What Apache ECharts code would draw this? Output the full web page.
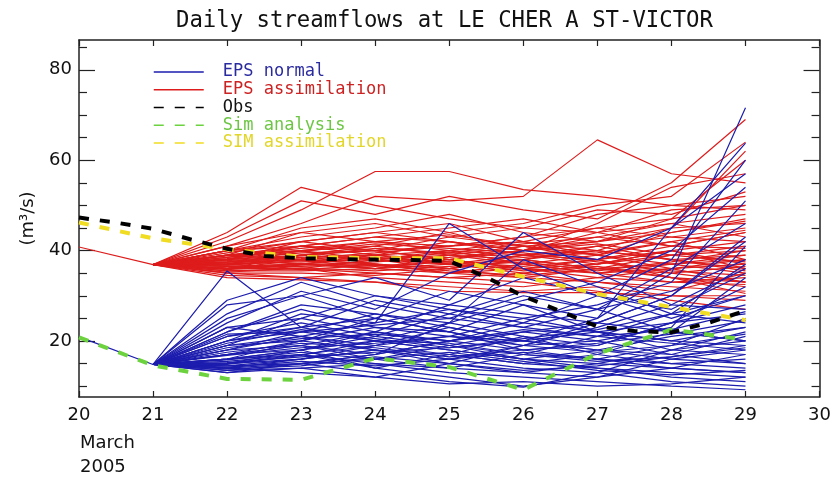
<!DOCTYPE html>
<html><head><meta charset="utf-8">
<script src="https://cdn.jsdelivr.net/npm/echarts@6/dist/echarts.min.js"></script>
<style>html,body{margin:0;padding:0;background:#fff}#c{width:834px;height:483px}</style>
</head><body><div id="c"></div>
<script>
// ---------- data ----------
const titleText = 'Daily streamflows at LE CHER A ST-VICTOR';
const yAxisName = '(m\u00b3/s)';
const monthLabel = 'March';
const yearLabel = '2005';
const yMajorTicks = [20, 40, 60, 80];
const yMinorTicks = [10, 15, 25, 30, 35, 45, 50, 55, 65, 70, 75, 85];

const histDays = [20, 21];
const blueHist = [20.9, 14.8];
const redHist = [40.8, 36.9];

const memberDays = [21, 22, 23, 24, 25, 26, 27, 28, 29];
const blueStart = 14.8;
const redStart = 36.9;

// EPS normal members, values for days 22..29
const blueMembers = [
  [35.5, 23, 20, 18, 16, 15, 14, 13],
  [29, 34, 30, 27, 24, 22, 20, 19],
  [26, 33, 28, 25, 30, 27, 36, 46],
  [24, 31, 27, 35, 40, 38, 45, 63.8],
  [23, 25, 30, 28, 26, 24, 30, 42],
  [22, 27, 23, 21, 20, 25, 35, 71.6],
  [21, 24, 21, 19, 17, 16, 15, 16],
  [20, 23, 25, 31, 28, 22, 18, 17],
  [20, 22, 20, 24, 29, 33, 40, 54],
  [19, 21, 19, 17, 15, 14, 12, 11],
  [19, 20, 23, 22, 18, 19, 24, 28],
  [18, 22, 26, 24, 21, 17, 15, 14],
  [18, 19, 17, 20, 24, 30, 38, 60],
  [17, 20, 18, 16, 14, 13, 11, 10],
  [17, 18, 21, 26, 31, 27, 22, 20],
  [17, 19, 16, 14, 17, 21, 26, 37],
  [16, 18, 20, 18, 16, 18, 21, 23],
  [16, 17, 15, 13, 12, 11, 10, 9.2],
  [16, 18, 22, 28, 34, 30, 27, 35],
  [15.5, 17, 19, 23, 20, 18, 17, 21],
  [15, 16, 18, 17, 15, 17, 22, 34],
  [15, 17, 14, 12, 10, 12, 16, 18],
  [14.5, 16, 19, 21, 25, 28, 33, 51],
  [14.5, 15, 17, 20, 18, 16, 19, 25],
  [14, 15, 13, 11, 9.8, 13, 18, 22],
  [14, 16, 18, 16, 19, 23, 28, 36],
  [13.5, 15, 16, 19, 22, 20, 17, 15],
  [13.5, 14, 15, 14, 13, 15, 18, 20],
  [13, 14, 12, 10.5, 11, 10, 10.5, 12],
  [13, 15, 17, 24, 38, 32, 26, 24],
  [20, 26, 24, 46, 36, 30, 25, 30],
  [25, 30, 34, 29, 44, 35, 28, 27],
  [21, 23, 29, 26, 23, 27, 31, 38],
  [18, 21, 24, 27, 25, 22, 20, 23],
  [16, 20, 25, 22, 28, 25, 45, 57],
  [19, 25, 22, 20, 22, 24, 22, 20],
  [22, 28, 26, 23, 20, 18, 16, 15],
  [17, 19, 22, 19, 16, 14, 13, 12],
  [15, 18, 14, 17, 21, 19, 24, 32],
  [23, 21, 18, 15, 13, 12, 14, 17],
  [28, 30, 25, 22, 19, 20, 23, 41],
  [14, 13, 12, 15, 19, 24, 30, 43],
  [15.2, 16.5, 17.5, 18.5, 20, 22, 24, 26],
  [16.8, 18.5, 19.5, 21, 19, 17.5, 19, 21.5],
  [14.2, 15.5, 14.5, 16, 17.5, 16, 14, 13],
  [18.5, 20.5, 21.5, 20, 22.5, 21, 19.5, 18],
  [13.8, 14.5, 16.5, 15, 13.5, 14.5, 16.5, 19],
  [19.5, 22.5, 20.5, 18.5, 20.5, 22.5, 26, 30],
  [15.8, 17.5, 16, 17.5, 15.5, 13.5, 12.5, 13.5],
  [17.5, 19.5, 18.5, 16.5, 18, 19.5, 21.5, 24.5],
  [21.5, 22, 23.5, 25, 23, 21, 22.5, 26.5],
  [14.8, 16.8, 20, 19.5, 17, 15.5, 16.5, 18.5]
];

// EPS assimilation members, values for days 22..29
const redMembers = [
  [44, 54, 50, 47, 45, 44, 46, 48],
  [42, 49, 57.5, 57.5, 53.5, 52, 50, 49],
  [41, 46, 52, 51, 52, 64.5, 57, 55],
  [43, 51, 48, 52, 49, 47, 55, 69],
  [40, 45, 47, 44, 46, 50, 52, 64],
  [40, 43, 45, 48, 44, 42, 47, 60],
  [39.5, 42, 44, 42, 40, 46, 54, 57],
  [39, 41, 43, 45, 47, 44, 41, 44],
  [39, 40, 42, 41, 43, 48, 50, 52],
  [38.5, 41, 40, 43, 41, 39, 44, 47],
  [38.5, 40, 41, 39, 38, 41, 43, 45],
  [38, 39.5, 40, 41, 42, 40, 38, 39],
  [38, 39, 38, 40, 39, 37, 40, 42],
  [37.5, 38.5, 39, 38, 40, 42, 45, 46],
  [37.5, 38, 37, 36, 38, 40, 38, 36],
  [37, 38, 39, 40, 37, 35, 36, 38],
  [37, 37.5, 38, 39, 41, 39, 37, 35],
  [36.5, 37, 36, 38, 36, 34, 33, 34],
  [36.5, 36.5, 37, 35, 34, 36, 39, 41],
  [36, 37, 38.5, 37, 39, 38, 35, 33],
  [36, 36, 35, 34, 35, 33, 32, 31],
  [35.5, 35.5, 36, 37, 36, 38, 41, 44],
  [35.5, 36, 34, 33, 32, 34, 36, 37],
  [35, 35, 34.5, 36, 38, 36, 34, 32],
  [35, 34, 33, 32, 31, 32, 30, 29],
  [34.5, 34, 35, 34, 33, 31, 29, 27],
  [34, 33.5, 33, 31, 30.7, 30.7, 30, 30],
  [40, 42, 40, 38, 36, 37, 39, 40],
  [39, 44, 46, 43, 45, 49, 48, 53],
  [38, 42, 44, 46, 42, 39, 42, 38],
  [37, 40, 37, 35, 37, 39, 36, 33],
  [36, 39, 41, 44, 40, 43, 46, 43],
  [38, 37, 39, 37, 35, 37, 40, 37],
  [37, 36, 38, 36, 39, 41, 38, 35.5],
  [36, 38, 36, 39, 37, 35, 33, 32.5],
  [39, 40, 38, 37, 38, 36, 37, 39],
  [40, 41, 39, 42, 40, 44, 49, 50],
  [41, 44, 42, 40, 42, 45, 43, 42],
  [38, 41, 43, 42, 39, 40, 45, 62],
  [37, 39, 40, 38, 41, 38, 34, 30.5],
  [36, 37, 36, 35, 36, 35, 37, 38],
  [39, 38, 37, 36, 34, 33, 31, 35],
  [37.2, 38.2, 39.5, 41, 43, 45, 47, 50],
  [36.8, 37.8, 38.5, 37.5, 36.5, 38, 40, 36],
  [38.2, 39.8, 41.5, 40.5, 39.5, 37.5, 35.5, 34.5],
  [35.8, 36.8, 37.5, 38.5, 40, 41.5, 39, 37.5],
  [37.8, 38.8, 40.5, 39.5, 41.5, 43, 41, 40.5],
  [36.2, 37.2, 36.5, 37.5, 35.5, 36.5, 34, 33],
  [38.8, 40.5, 42, 43.5, 41, 42, 44, 46.5],
  [35.2, 36.2, 35.5, 36.5, 37.5, 35.5, 37.5, 40],
  [37.4, 39, 38, 39.5, 38.5, 39.5, 42, 44.5],
  [36.6, 35.8, 36.8, 35.5, 34.5, 36, 35, 36.5]
];

const simDays = [20, 21, 22, 23, 24, 25, 26, 27, 28, 29];
const simAnalysis = [20.8, 14.6, 11.6, 11.4, 16.2, 14.2, 9.2, 17.2, 22.5, 20.3];
const simAssim = [46.2, 42.7, 40.3, 38.6, 38.3, 38.3, 34.2, 30.4, 27.5, 24.6];

const obsDays = [20, 20.5, 21, 21.5, 22, 22.5, 23, 23.5, 24, 24.5, 25, 25.5, 26, 26.5, 27, 27.5, 28, 28.5, 29];
const obsValues = [47.3, 46.2, 44.8, 42.5, 40.4, 38.8, 38.3, 38.1, 38.0, 37.9, 37.7, 34.1, 29.9, 26.6, 23.2, 22.2, 21.9, 24.0, 26.7];

// ---------- chart ----------
const FONT = 'DejaVu Sans';
const MONO = 'DejaVu Sans Mono';
const BLUE = '#1c1cae';
const RED = '#de1c1c';
const GREEN = '#6cd23e';
const YELLOW = '#f0dc22';
const AXIS = '#222';
const DASH = [10, 11];

function pairs(xs, ys) { return xs.map((x, i) => [x, ys[i]]); }
function lineSeries(name, data, color, width, dash, z) {
  return {
    type: 'line', name: name, data: data, symbol: 'none', silent: true,
    xAxisIndex: 0, yAxisIndex: 0, z: z,
    lineStyle: { color: color, width: width, type: dash || 'solid', cap: 'butt' },
    itemStyle: { color: color }
  };
}

const series = [];
series.push(lineSeries('EPS assimilation', pairs(histDays, redHist), RED, 1.2, null, 2));
redMembers.forEach(m => series.push(lineSeries('EPS assimilation', pairs(memberDays, [redStart].concat(m)), RED, 1.2, null, 2)));
series.push(lineSeries('EPS normal', pairs(histDays, blueHist), BLUE, 1.2, null, 3));
blueMembers.forEach(m => series.push(lineSeries('EPS normal', pairs(memberDays, [blueStart].concat(m)), BLUE, 1.2, null, 3)));
series.push(lineSeries('Sim analysis', pairs(simDays, simAnalysis), GREEN, 4, DASH, 4));
series.push(lineSeries('SIM assimilation', pairs(simDays, simAssim), YELLOW, 4, DASH, 5));
series.push(lineSeries('Obs', pairs(obsDays, obsValues), '#000', 4, DASH, 6));

const yBase = { type: 'value', min: 7.6, max: 86.6, splitLine: { show: false } };
const chart = echarts.init(document.getElementById('c'), null, { renderer: 'canvas' });
chart.setOption({
  animation: false,
  backgroundColor: '#fff',
  textStyle: { fontFamily: FONT },
  grid: { left: 79, right: 10, top: 40, bottom: 86, containLabel: false },
  graphic: [
    { type: 'text', left: 176, top: 10, style: { text: titleText, font: '22.3px "' + MONO + '"', fill: '#111' } },
    { type: 'text', left: 80, top: 434, style: { text: monthLabel, font: '18px "' + FONT + '"', fill: '#111' } },
    { type: 'text', left: 80, top: 458, style: { text: yearLabel, font: '18px "' + FONT + '"', fill: '#111' } }
  ],
  legend: {
    orient: 'vertical', left: 153, top: 63.5, padding: 0, itemWidth: 50, itemHeight: 14, itemGap: 0.75,
    selectedMode: false,
    lineStyle: { width: 1.5 },
    itemStyle: { color: 'rgba(0,0,0,0)', borderWidth: 0, borderColor: 'rgba(0,0,0,0)' },
    textStyle: { fontFamily: MONO, fontSize: 17, padding: [0, 0, 0, 14] },
    data: [
      { name: 'EPS normal', textStyle: { color: '#2b2ba0' } },
      { name: 'EPS assimilation', textStyle: { color: '#cc2222' } },
      { name: 'Obs', textStyle: { color: '#111' } },
      { name: 'Sim analysis', textStyle: { color: '#6cc644' } },
      { name: 'SIM assimilation', textStyle: { color: '#e2d62a' } }
    ]
  },
  xAxis: [
    { type: 'value', position: 'bottom', min: 20, max: 30, interval: 1, splitLine: { show: false },
      axisLine: { lineStyle: { color: AXIS, width: 1.5 } },
      axisTick: { inside: true, length: 6, lineStyle: { color: AXIS, width: 1.2 } },
      axisLabel: { fontSize: 18, color: '#111', margin: 9, fontFamily: FONT } },
    { type: 'value', position: 'top', min: 20, max: 30, interval: 1, splitLine: { show: false },
      axisLine: { lineStyle: { color: AXIS, width: 1.5 } },
      axisTick: { inside: true, length: 6, lineStyle: { color: AXIS, width: 1.2 } },
      axisLabel: { show: false } }
  ],
  yAxis: [
    Object.assign({}, yBase, { position: 'left',
      name: yAxisName, nameLocation: 'middle', nameGap: 42, nameRotate: 90,
      nameTextStyle: { fontSize: 18, color: '#111', fontFamily: FONT },
      axisLine: { show: true, lineStyle: { color: AXIS, width: 1.5 } },
      axisTick: { inside: true, length: 16, customValues: yMajorTicks, lineStyle: { color: AXIS, width: 1.2 } },
      axisLabel: { customValues: yMajorTicks, fontSize: 18, color: '#111', margin: 7, fontFamily: FONT } }),
    Object.assign({}, yBase, { position: 'left',
      axisLine: { show: false },
      axisTick: { inside: true, length: 8, customValues: yMinorTicks, lineStyle: { color: AXIS, width: 1.2 } },
      axisLabel: { show: false } }),
    Object.assign({}, yBase, { position: 'right',
      axisLine: { show: true, lineStyle: { color: AXIS, width: 1.5 } },
      axisTick: { inside: true, length: 16, customValues: yMajorTicks, lineStyle: { color: AXIS, width: 1.2 } },
      axisLabel: { show: false } }),
    Object.assign({}, yBase, { position: 'right',
      axisLine: { show: false },
      axisTick: { inside: true, length: 8, customValues: yMinorTicks, lineStyle: { color: AXIS, width: 1.2 } },
      axisLabel: { show: false } })
  ],
  series: series
});
</script></body></html>
